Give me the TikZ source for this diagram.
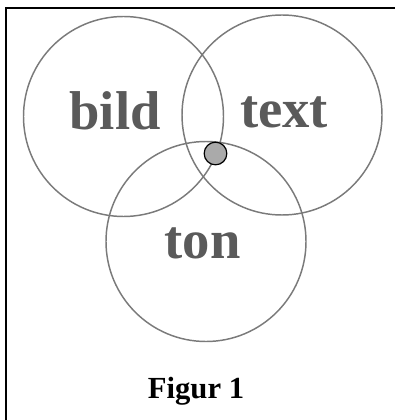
\documentclass[tikz,border=0pt]{standalone}
\usepackage{fontspec}
\setmainfont{Liberation Serif}
\usepackage{xcolor}
\usepackage{tikz}
\definecolor{ringx}{HTML}{7A7A7A}
\definecolor{wordx}{HTML}{5A5A5A}
\definecolor{dotx}{HTML}{AAAAAA}
\tikzset{
  ring/.style={circle,draw=ringx,line width=1.1pt,minimum size=150pt,inner sep=0pt},
  word/.style={anchor=base,wordx,font=\bfseries\fontsize{41}{41}\selectfont,inner sep=0pt},
  dot/.style={circle,draw=black,line width=0.9pt,fill=dotx,minimum size=17pt,inner sep=0pt},
  frame/.style={line width=1.6pt,black},
  figcap/.style={anchor=base,font=\bfseries\fontsize{23}{23}\selectfont,inner sep=0pt}
}
\begin{document}
\begin{tikzpicture}[x=0.75pt,y=-0.75pt]
\useasboundingbox (0,0) rectangle (395,420);
\draw[frame] (6,420) -- (6,8) -- (395,8);
\node[ring] (bildc) at (123.5,116.5) {};
\node[ring] (textc) at (282,115) {};
\node[ring] (tonc) at (206,241.5) {};
\node[dot] (mid) at (215.5,153.5) {};
\node[word] (bild) at (115,130) {bild};
\node[word] (text) at (284,128) {text};
\node[word] (ton) at (202.5,258) {ton};
\node[figcap] (fig) at (196,398) {Figur 1};
\end{tikzpicture}
\end{document}
